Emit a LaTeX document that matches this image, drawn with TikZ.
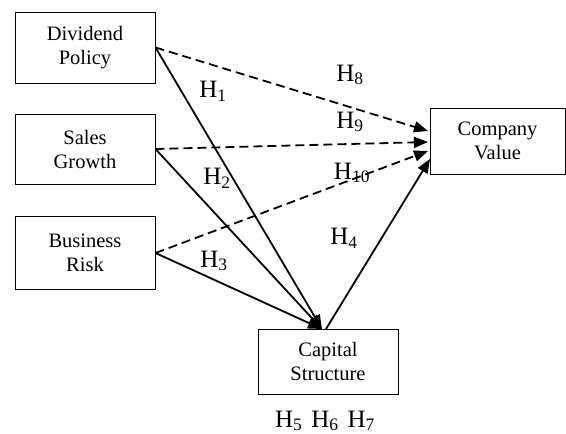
\documentclass[tikz,border=0pt]{standalone}
\usepackage{fontspec}
\setmainfont{Liberation Serif}
\usetikzlibrary{arrows.meta,calc}
\begin{document}
\begin{tikzpicture}[x=1pt,y=-1pt,
  box/.style={draw,line width=1pt,minimum width=140pt,align=center,font=\fontsize{20.5}{24}\selectfont,inner sep=0pt},
  lab/.style={font=\fontsize{25}{28}\selectfont,inner sep=0pt},
  conn/.style={line width=1.8pt,-{Triangle[length=14pt,width=11pt]}},
  dconn/.style={conn,dash pattern=on 9pt off 5pt}]
\useasboundingbox (0,0) rectangle (566,434);
\node[box,minimum height=71pt] (dp) at (85,47.5) {Dividend\\Policy};
\node[box,minimum height=70pt] (sg) at (85,149) {Sales\\Growth};
\node[box,minimum height=73pt] (br) at (85,253) {Business\\Risk};
\node[box,minimum width=135pt,minimum height=66pt] (cv) at (497.5,141) {Company\\Value};
\node[box,minimum height=65pt] (cs) at (328,361.5) {Capital\\Structure};
\coordinate (t1) at (322,329);
\coordinate (t8) at (428,131);
\coordinate (t9) at (428,142);
\coordinate (t10) at (428,151);
\coordinate (t4) at (430,159);
\coordinate (s4) at (326,329);
\draw[conn] (dp.east) -- (t1);
\draw[conn] (sg.east) -- (t1);
\draw[conn] (br.east) -- (t1);
\draw[conn] (s4) -- (t4);
\draw[dconn] (dp.east) -- (t8);
\draw[dconn] (sg.east) -- (t9);
\draw[dconn] (br.east) -- (t10);
\node[lab] (h1) at (213,91) {H\textsubscript{1}};
\node[lab] (h2) at (217,178) {H\textsubscript{2}};
\node[lab] (h3) at (214,261) {H\textsubscript{3}};
\node[lab] (h4) at (344,238) {H\textsubscript{4}};
\node[lab] (h8) at (350,75) {H\textsubscript{8}};
\node[lab] (h9) at (350,122) {H\textsubscript{9}};
\node[lab] (h10) at (352,173) {H\textsubscript{10}};
\node[lab] (h567) at (325,421) {H\textsubscript{5}\hspace{9pt}H\textsubscript{6}\hspace{9pt}H\textsubscript{7}};
\end{tikzpicture}
\end{document}
